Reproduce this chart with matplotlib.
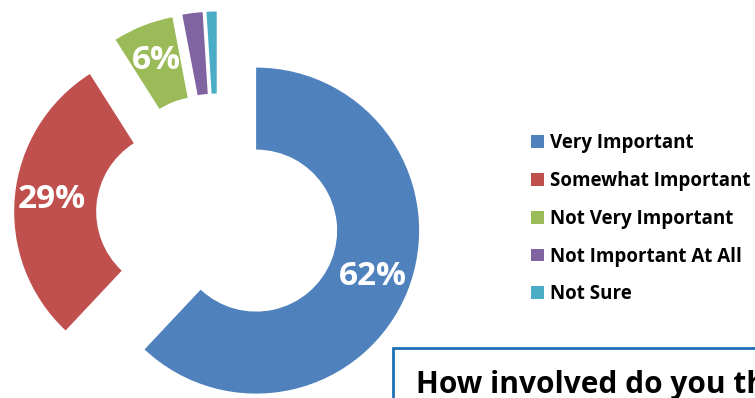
import matplotlib.pyplot as plt
from matplotlib.patches import Rectangle

plt.rcParams['font.family'] = ['Open Sans', 'DejaVu Sans']

categories = ["Very Important", "Somewhat Important", "Not Very Important",
              "Not Important At All", "Not Sure"]
values = [62, 29, 6, 2, 1]
colors = ["#4F81BD", "#C0504D", "#9BBB59", "#8064A2", "#4BACC6"]
box_title = "How involved do you th"

W, H = 755, 398
fig = plt.figure(figsize=(W / 100, H / 100), dpi=100)
ax = fig.add_axes([0, 0, 1, 1])

R = 163
wedges, texts, autotexts = ax.pie(
    values, colors=colors, startangle=90, counterclock=False,
    radius=R, center=(218, 182.5), explode=[41] * len(values),
    wedgeprops=dict(width=82, linewidth=0),
    autopct=lambda p: f"{p:.0f}%" if p >= 5 else "", pctdistance=0.77,
    textprops=dict(color="white", fontsize=24, fontweight="bold"))

ax.set_xlim(0, W)
ax.set_ylim(0, H)
ax.set_aspect("equal")
ax.axis("off")

ax.legend(wedges, categories, loc="upper left", bbox_to_anchor=(522, 274),
          bbox_transform=ax.transData, frameon=False,
          handlelength=0.68, handleheight=0.68, handletextpad=0.3,
          labelspacing=0.945, borderpad=0,
          prop=dict(weight="bold", size=13.5))

# question box (cut off by the image edge)
ax.add_patch(Rectangle((393, -20), 400, 70, fill=False, edgecolor="#1F6FB5",
                       linewidth=2))
ax.text(416, 5, box_title, fontsize=21.5, fontweight="bold", color="black",
        ha="left", va="baseline")

fig.savefig("out.png", dpi=100)
